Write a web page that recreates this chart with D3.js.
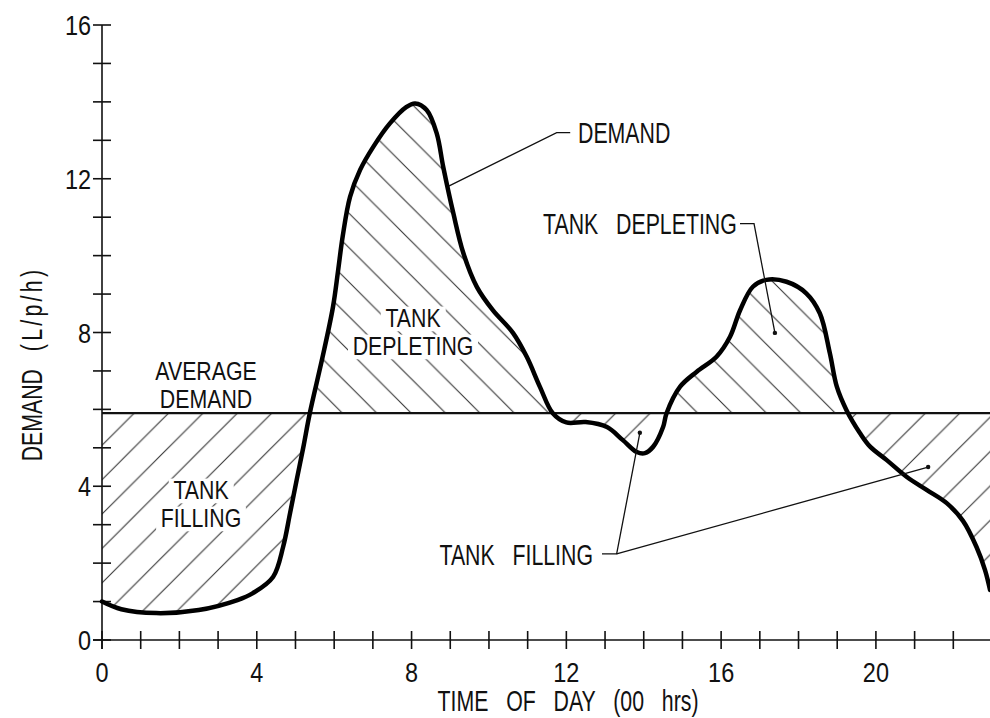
<!DOCTYPE html>
<html><head><meta charset="utf-8">
<script src="https://cdn.jsdelivr.net/npm/d3@7"></script>
<style>
html,body{margin:0;padding:0;background:#fff;}
svg{display:block;}
text{font-family:"Liberation Sans",Arial,sans-serif;fill:#111;white-space:pre;}
</style></head><body>
<svg id="chart" width="990" height="718"></svg>
<script>
// ---- data ----
const hours  = [0, 0.5, 1.4, 2.5, 3.5, 3.9, 4.42, 4.68, 4.86, 5.03, 5.2, 5.37, 5.7, 5.97, 6.1, 6.22, 6.41, 6.67, 7.01, 7.44, 7.87, 8.09, 8.39, 8.65, 8.82, 9.08, 9.34, 9.69, 10.1, 10.62, 10.98, 11.32, 11.65, 12.0, 12.5, 13.05, 13.46, 13.82, 14.03, 14.24, 14.5, 14.59, 14.94, 15.37, 15.88, 16.23, 16.49, 16.82, 17.17, 17.69, 18.2, 18.55, 18.81, 18.99, 19.24, 19.59, 19.85, 20.28, 20.8, 21.32, 21.83, 22.25, 22.6, 22.82, 22.95];
const demand = [1.0, 0.8, 0.7, 0.78, 1.04, 1.22, 1.64, 2.42, 3.3, 4.16, 5.0, 5.9, 7.36, 8.67, 9.6, 10.5, 11.53, 12.23, 12.83, 13.44, 13.87, 13.96, 13.79, 13.18, 12.3, 11.1, 10.06, 9.18, 8.58, 7.99, 7.36, 6.58, 5.9, 5.66, 5.67, 5.54, 5.2, 4.89, 4.86, 5.02, 5.54, 5.9, 6.59, 6.98, 7.37, 7.89, 8.58, 9.19, 9.37, 9.32, 9.02, 8.5, 7.46, 6.59, 5.98, 5.38, 5.03, 4.68, 4.24, 3.9, 3.56, 3.1, 2.42, 1.82, 1.3];
const averageDemand = 5.9;
const xTicks = d3.range(0, 23);
const xTickLabels = [0, 4, 8, 12, 16, 20];
const yTicks = d3.range(0, 17);
const yTickLabels = [0, 4, 8, 12, 16];
const xTitle = "TIME OF DAY (00 hrs)";
const yTitleMain = "DEMAND";
const yTitleUnit = "(L/p/h)";

// ---- scales ----
const svg = d3.select("#chart");
const x = d3.scaleLinear().domain([0, 23]).range([102, 992]);
const y = d3.scaleLinear().domain([0, 16]).range([640, 25]);
const pts = hours.map((h, i) => [h, demand[i]]);
const curve = d3.curveCatmullRom.alpha(0.5);

// ---- hatch patterns ----
const defs = svg.append("defs");
const S = 34.4;
function hatch(id, dir, ox) {
  const p = defs.append("pattern").attr("id", id).attr("patternUnits", "userSpaceOnUse")
    .attr("width", S).attr("height", S).attr("x", ox).attr("y", 0);
  const d = dir === "/"
    ? `M${-S/2},${S/2}L${S/2},${-S/2}M0,${S}L${S},0M${S/2},${S*1.5}L${S*1.5},${S/2}`
    : `M${-S/2},${S/2}L${S/2},${S*1.5}M0,0L${S},${S}M${S/2},${-S/2}L${S*1.5},${S/2}`;
  p.append("path").attr("d", d).attr("stroke", "#333").attr("stroke-width", 1.1).attr("fill", "none");
}
hatch("fillHatch", "/", 31.3);
hatch("depHatch1", "\\", 32.5);
hatch("depHatch2", "\\", 9.4);

const yAvg = y(averageDemand);
defs.append("clipPath").attr("id", "clipBelow").append("rect")
  .attr("x", x(0)).attr("y", yAvg).attr("width", 1000).attr("height", y(0) - yAvg);
defs.append("clipPath").attr("id", "clipAbove1").append("rect")
  .attr("x", x(0)).attr("y", 0).attr("width", x(12) - x(0)).attr("height", yAvg);
defs.append("clipPath").attr("id", "clipAbove2").append("rect")
  .attr("x", x(12)).attr("y", 0).attr("width", 1000).attr("height", yAvg);

const area = d3.area().x(d => x(d[0])).y0(yAvg).y1(d => y(d[1])).curve(curve);
svg.append("path").attr("d", area(pts)).attr("fill", "url(#fillHatch)").attr("clip-path", "url(#clipBelow)");
svg.append("path").attr("d", area(pts)).attr("fill", "url(#depHatch1)").attr("clip-path", "url(#clipAbove1)");
svg.append("path").attr("d", area(pts)).attr("fill", "url(#depHatch2)").attr("clip-path", "url(#clipAbove2)");

// ---- text helper (Arial metrics squeezed to a narrow drafting look) ----
function label(lines, px, py, anchor, mask, opt) {
  const o = Object.assign({fs: 26, sx: 0.82, sy: 1.12, gap: 28}, opt || {});
  const g = svg.append("g").attr("transform", `translate(${px},${py}) scale(${o.sx},${o.sy})`);
  if (mask) {
    lines.forEach((ln, i) => {
      const tmp = g.append("text").attr("text-anchor", anchor).style("font-size", o.fs + "px")
        .attr("y", i * o.gap / o.sy).text(ln);
      const b = tmp.node().getBBox();
      tmp.remove();
      g.append("rect").attr("fill", "#fff").attr("x", b.x - 5).attr("y", b.y + 2)
        .attr("width", b.width + 10).attr("height", b.height - 3);
    });
  }
  const t = g.append("text").attr("text-anchor", anchor).style("font-size", o.fs + "px")
    .style("word-spacing", (14.5 * 26 * 0.82 / (o.fs * o.sx)) + "px");
  lines.forEach((ln, i) => t.append("tspan").attr("x", 0).attr("dy", i ? o.gap / o.sy : 0).text(ln));
  return t;
}
// two-line labels: same letter width, slightly less height so the lines do not collide
const twoLine = {fs: 23, sx: 0.927, sy: 1.085, gap: 28};

// labels inside hatched areas (with gaps in the hatching)
label(["TANK", "FILLING"], 201, 499, "middle", true, twoLine);
label(["TANK", "DEPLETING"], 413, 327, "middle", true, twoLine);

// ---- average line ----
svg.append("line").attr("x1", x(0)).attr("x2", 990).attr("y1", yAvg).attr("y2", yAvg)
  .attr("stroke", "#111").attr("stroke-width", 2.2);

// ---- axes ----
const ax = svg.append("g").attr("stroke", "#111").attr("stroke-width", 1.6);
ax.append("line").attr("x1", x(0)).attr("x2", x(0)).attr("y1", y(16)).attr("y2", y(0) + 9);
ax.append("line").attr("x1", x(0) - 9).attr("x2", 990).attr("y1", y(0)).attr("y2", y(0));
ax.selectAll(".yt").data(yTicks).join("line").attr("x1", x(0) - 9).attr("x2", x(0) + 9)
  .attr("y1", d => y(d)).attr("y2", d => y(d));
ax.selectAll(".xt").data(xTicks).join("line").attr("y1", y(0) - 9).attr("y2", y(0) + 9)
  .attr("x1", d => x(d)).attr("x2", d => x(d));

yTickLabels.forEach(v => {
  svg.append("g").attr("transform", `translate(${x(0) - 11},${y(v) + 10}) scale(0.87,1.03)`)
    .append("text").attr("text-anchor", "end").style("font-size", "27px").text(v);
});
xTickLabels.forEach(v => {
  svg.append("g").attr("transform", `translate(${x(v)},${682}) scale(0.87,1.03)`)
    .append("text").attr("text-anchor", "middle").style("font-size", "27px").text(v);
});

// axis titles
label([xTitle], 568, 711, "middle", false);
const yg = svg.append("g").attr("transform", `translate(42,364) rotate(-90) scale(0.82,1.12)`);
const yt = yg.append("text").attr("text-anchor", "middle").style("font-size", "26px").style("word-spacing", "14.5px");
yt.append("tspan").text(yTitleMain + " ");
yt.append("tspan").style("letter-spacing", "4px").text(yTitleUnit);

// ---- demand curve ----
const line = d3.line().x(d => x(d[0])).y(d => y(d[1])).curve(curve);
svg.append("path").attr("d", line(pts)).attr("fill", "none").attr("stroke", "#000")
  .attr("stroke-width", 4.5).attr("stroke-linejoin", "round").attr("stroke-linecap", "round");

// ---- annotations ----
label(["AVERAGE", "DEMAND"], 206, 380, "middle", false, twoLine);
label(["DEMAND"], 578, 143, "start", false);
label(["TANK DEPLETING"], 543, 234, "start", false);
label(["TANK FILLING"], 593, 565, "end", false);

const lead = svg.append("g").attr("stroke", "#111").attr("stroke-width", 1.3).attr("fill", "none");
const L = d3.line();
// DEMAND leader
lead.append("path").attr("d", L([[x(8.96), y(11.81)], [x(11.75), y(13.2)], [x(12.1), y(13.2)]]));
// TANK DEPLETING leader
lead.append("path").attr("d", L([[740, y(10.83)], [x(16.85), y(10.83)], [x(17.39), y(7.99)]]));
// TANK FILLING leaders
lead.append("path").attr("d", L([[602, y(2.24)], [x(13.3), y(2.24)], [x(13.9), y(5.39)]]));
lead.append("path").attr("d", L([[x(13.3), y(2.24)], [x(21.35), y(4.5)]]));
const dots = [[17.39, 7.99], [13.9, 5.39], [21.35, 4.5]];
svg.selectAll(".dot").data(dots).join("circle").attr("cx", d => x(d[0])).attr("cy", d => y(d[1]))
  .attr("r", 2.2).attr("fill", "#111");
</script>
</body></html>
